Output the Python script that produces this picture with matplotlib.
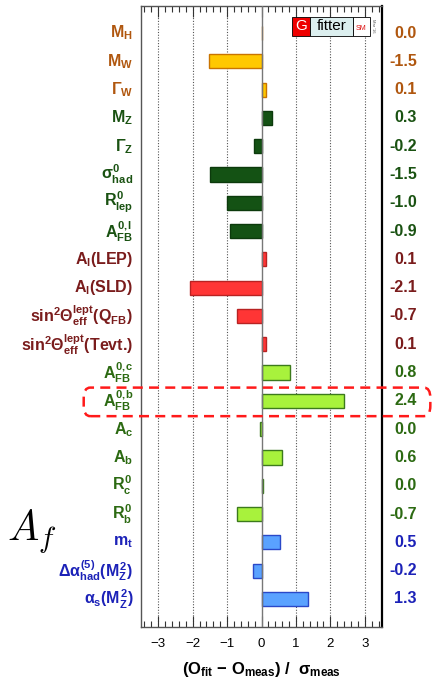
import matplotlib
matplotlib.use("Agg")
import matplotlib.pyplot as plt
from matplotlib.ticker import MultipleLocator
from matplotlib.patches import Rectangle, FancyBboxPatch

plt.rcParams['font.family'] = ['Liberation Sans', 'DejaVu Sans']
plt.rcParams['mathtext.fontset'] = 'custom'
plt.rcParams['mathtext.rm'] = 'Liberation Sans:bold'
plt.rcParams['mathtext.it'] = 'Liberation Sans:bold'
plt.rcParams['mathtext.bf'] = 'Liberation Sans:bold'
plt.rcParams['mathtext.sf'] = 'Liberation Sans:bold'

# observables, top to bottom
labels = [r'$M_H$', r'$M_W$', r'$\Gamma_W$', r'$M_Z$', r'$\Gamma_Z$',
          r'$\sigma^0_{had}$', r'$R^0_{lep}$', r'$A^{0{,}l}_{FB}$',
          r'$A_l$(LEP)', r'$A_l$(SLD)',
          r'sin$^2\Theta^{lept}_{eff}$(Q$_{FB}$)',
          r'sin$^2\Theta^{lept}_{eff}$(Tevt.)',
          r'$A^{0{,}c}_{FB}$', r'$A^{0{,}b}_{FB}$', r'$A_c$', r'$A_b$',
          r'$R^0_c$', r'$R^0_b$', r'$m_t$',
          r'$\Delta\alpha^{(5)}_{had}(M^2_Z)$', r'$\alpha_s(M^2_Z)$']

# pull values (O_fit - O_meas) / sigma_meas
pulls = [0.0, -1.53, 0.14, 0.31, -0.22,
         -1.51, -0.99, -0.91,
         0.14, -2.09, -0.72, 0.14,
         0.83, 2.39, -0.04, 0.59,
         0.04, -0.72, 0.54, -0.24, 1.34]

# group index of each observable
groups = [0, 0, 0, 1, 1, 1, 1, 1, 2, 2, 2, 2, 3, 3, 3, 3, 3, 3, 4, 4, 4]

text_colors = ['#b0570f', '#1a5212', '#7a1c1c', '#2c6a12', '#1c22b8']
fill_colors = ['#ffc800', '#145214', '#ff3535', '#a8f23c', '#5aa2ff']
edge_colors = ['#c97400', '#0c3a0c', '#b82222', '#3c7a1c', '#2a48c8']

fig = plt.figure(figsize=(4.36, 6.80), dpi=100)
ax = fig.add_axes([0.3234, 0.078, 0.5528, 0.913])

rows = list(range(len(pulls)))
ax.barh(rows, pulls, height=0.5,
        color=[fill_colors[g] for g in groups],
        edgecolor=[edge_colors[g] for g in groups], linewidth=1.0, zorder=3)

ax.set_xlim(-3.5, 3.5)
ax.set_ylim(20.99, -0.95)
ax.set_yticks([])

for x in [-3, -2, -1, 1, 2, 3]:
    ax.axvline(x, color='#555555', linestyle=(0, (1, 1.5)), linewidth=0.8, zorder=1)
ax.axvline(0, color='#777777', linewidth=1.0, zorder=4)

ax.xaxis.set_major_locator(MultipleLocator(1))
ax.xaxis.set_minor_locator(MultipleLocator(0.2))
ax.tick_params(axis='x', which='both', direction='in', top=True, bottom=True,
               colors='#333333', labelcolor='black', labelsize=9.5, pad=8)
ax.tick_params(axis='x', which='major', length=8, width=0.8)
ax.tick_params(axis='x', which='minor', length=4, width=0.8)

for side in ['left', 'top', 'bottom']:
    ax.spines[side].set_color('#555555')
    ax.spines[side].set_linewidth(1.0)
ax.spines['right'].set_color('black')
ax.spines['right'].set_linewidth(1.6)

for i, (lab, v, g) in enumerate(zip(labels, pulls, groups)):
    ax.text(-0.033, i, lab, transform=ax.get_yaxis_transform(), ha='right',
            va='center', fontsize=11.5, fontweight='bold', color=text_colors[g])
    s = '%.1f' % v
    if s == '-0.0':
        s = '0.0'
    ax.text(1.145, i, s, transform=ax.get_yaxis_transform(), ha='right',
            va='center', fontsize=11.5, fontweight='bold', color=text_colors[g])

ax.set_xlabel(r'(O$_{fit}$ $-$ O$_{meas}$) /  $\sigma_{meas}$', fontsize=12,
              fontweight='bold', labelpad=7)

# dashed frame round the b-quark asymmetry row
fig.patches.append(FancyBboxPatch((0.192, 0.388), 0.795, 0.042,
                                  boxstyle='round,pad=0,rounding_size=0.015',
                                  transform=fig.transFigure, fill=False,
                                  edgecolor='#ff1a1a', linewidth=1.8,
                                  linestyle=(0, (4, 2.5)), zorder=10))

# Gfitter logo
fig.patches.append(Rectangle((292 / 436, 1 - 36 / 680), 18 / 436, 19 / 680,
                             transform=fig.transFigure, facecolor='#ee0000',
                             edgecolor='black', linewidth=0.6, zorder=10))
fig.patches.append(Rectangle((310 / 436, 1 - 36 / 680), 43 / 436, 19 / 680,
                             transform=fig.transFigure, facecolor='#dcefef',
                             edgecolor='black', linewidth=0.6, zorder=10))
fig.patches.append(Rectangle((353 / 436, 1 - 36 / 680), 17 / 436, 19 / 680,
                             transform=fig.transFigure, facecolor='white',
                             edgecolor='black', linewidth=0.6, zorder=10))
fig.text(301 / 436, 1 - 26.5 / 680, 'G', color='white', fontsize=11,
         ha='center', va='center', zorder=11)
fig.text(331.5 / 436, 1 - 26 / 680, 'fitter', color='black', fontsize=11,
         ha='center', va='center', zorder=11)
fig.text(361.5 / 436, 1 - 29 / 680, 'SM', color='#dd1111', fontsize=5,
         ha='center', va='center', zorder=11)
fig.text(373 / 436, 1 - 26 / 680, "Mar '16", color='#555555', fontsize=3,
         rotation=270, ha='center', va='center', zorder=11)

fig.text(0.015, 0.218, r'$A_f$', fontsize=30, math_fontfamily='cm',
         ha='left', va='center')

fig.savefig('out.png', dpi=100)
